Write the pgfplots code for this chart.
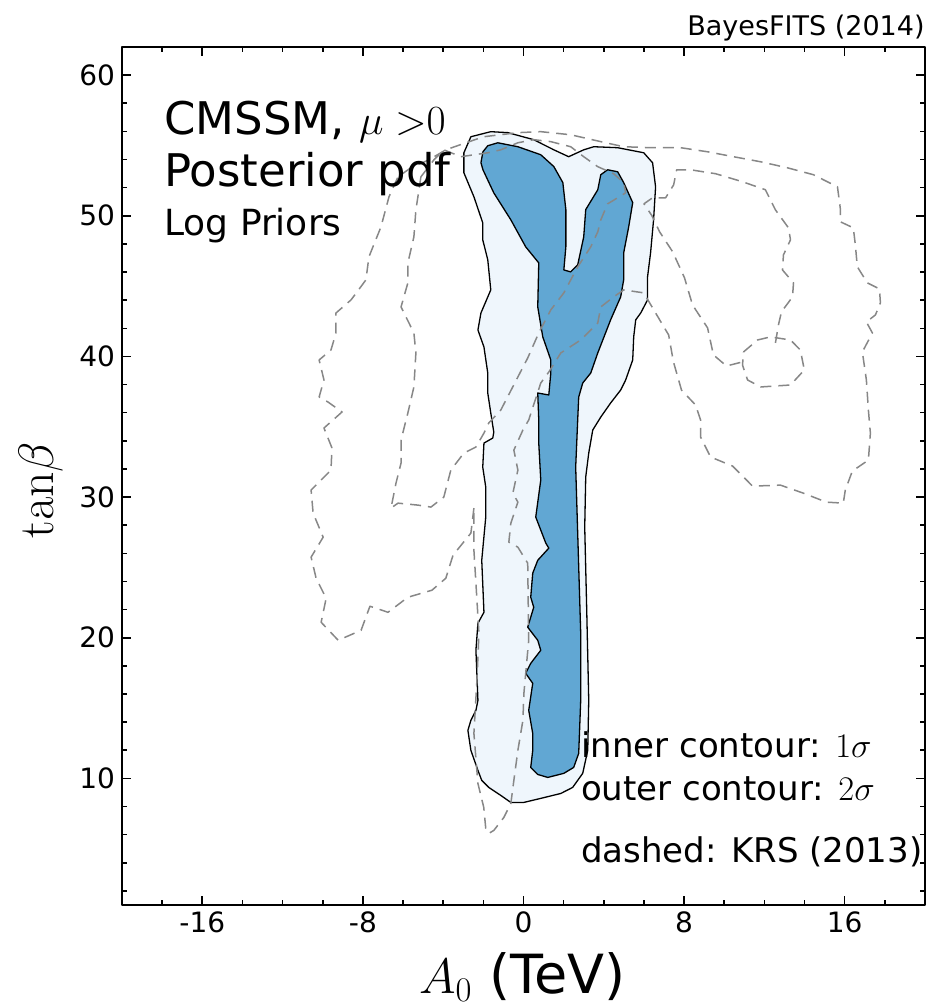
\documentclass[border=0pt]{standalone}
\usepackage[no-math]{fontspec}
\setmainfont{DejaVu Sans}
\usepackage{pgfplots}
\pgfplotsset{compat=1.18}
\definecolor{sigone}{RGB}{97,167,211}
\definecolor{sigtwo}{RGB}{239,246,252}
\definecolor{krs}{RGB}{135,135,135}

\begin{document}
\begin{tikzpicture}
\path[use as bounding box] (0,0) rectangle (465pt,503.5pt);
\begin{axis}[
  at={(61pt,51pt)}, anchor=south west,
  scale only axis, width=401.5pt, height=429pt,
  xmin=-20, xmax=20, ymin=1, ymax=62,
  xtick={-16,-8,0,8,16}, xticklabels={-16,-8,0,8,16},
  ytick={10,20,30,40,50,60}, yticklabels={10,20,30,40,50,60},
  minor xtick={-20,-18,...,20}, minor ytick={2,4,...,62},
  tick align=inside,
  major tick length=4.5pt, minor tick length=2.3pt,
  every tick/.style={black, line width=0.8pt},
  axis line style={line width=1.2pt},
  tick label style={font=\fontsize{14}{16}\selectfont},
  clip=false,
  axis on top,
  line join=round,
]

% 2 sigma region (outer contour)
\addplot[draw=black, line width=0.65pt, fill=sigtwo] coordinates {
(-2.97,53.63) (-2.97,54.48) (-2.62,55.62) (-1.63,55.98) (-0.78,55.91) (0.51,55.41)
(1.51,54.69) (2.25,54.20) (3.00,54.69) (3.50,54.91) (4.69,54.84) (5.99,54.48)
(6.43,53.77) (6.58,52.06) (6.48,49.71) (6.33,47.36) (6.18,45.66) (6.18,44.02)
(5.84,43.09) (5.59,42.60) (5.49,41.39) (5.44,39.75) (5.09,38.33) (4.84,37.61)
(4.34,36.69) (3.85,35.69) (3.45,34.77) (3.25,33.13) (3.10,31.42) (3.05,27.86)
(3.15,21.96) (3.25,15.55) (3.20,11.99) (2.95,10.36) (2.45,9.36) (1.86,8.93)
(0.86,8.58) (0.01,8.29) (-0.63,8.29) (-1.13,8.79) (-1.73,9.36) (-2.08,9.86)
(-2.27,10.57) (-2.62,11.99) (-2.77,13.42) (-2.62,14.13) (-2.37,14.84) (-2.27,15.55)
(-2.37,19.11) (-2.27,21.03) (-1.97,21.81) (-2.08,25.51) (-1.88,28.58) (-1.88,30.71)
(-2.03,32.13) (-1.97,33.84) (-1.53,34.20) (-1.48,34.62) (-1.63,35.98) (-1.78,37.40)
(-1.78,38.82) (-1.97,40.67) (-2.27,41.88) (-2.12,43.09) (-1.63,44.73) (-1.78,46.87)
(-2.03,48.29) (-2.03,49.50) (-2.47,51.35) (-2.97,53.06)
} -- cycle;

% 1 sigma region (inner contour)
\addplot[draw=black, line width=0.65pt, fill=sigone] coordinates {
(-2.12,53.77) (-2.02,54.55) (-1.78,54.98) (-1.28,55.19) (-0.28,54.91) (0.86,54.34)
(1.51,53.50) (1.96,52.36) (2.11,50.44) (2.11,47.79) (2.01,46.15) (2.35,46.01)
(2.70,46.51) (3.00,48.50) (3.10,50.44) (3.70,51.85) (3.85,52.92) (4.19,53.27)
(4.69,53.13) (4.99,52.36) (5.44,50.94) (5.24,49.21) (4.99,47.36) (4.99,45.44)
(4.84,44.23) (4.34,42.60) (3.70,40.25) (3.35,38.82) (2.95,38.11) (2.75,37.11)
(2.70,35.48) (2.60,32.13) (2.70,27.44) (2.85,20.32) (2.85,15.55) (2.75,11.78)
(2.50,10.78) (2.01,10.36) (1.21,10.07) (0.71,10.28) (0.36,10.78) (0.46,11.99)
(0.46,13.20) (0.26,14.84) (0.46,16.76) (0.11,17.47) (0.36,18.18) (0.86,19.11)
(0.71,19.82) (0.21,20.75) (0.51,22.17) (0.36,22.88) (0.46,24.59) (0.71,25.51)
(1.26,26.37) (1.11,26.73) (0.61,28.58) (0.86,31.21) (0.76,33.84) (0.76,35.48)
(0.71,37.40) (1.26,37.26) (1.36,38.82) (1.36,39.75) (0.96,41.39) (0.71,43.52)
(0.76,46.65) (0.11,47.79) (-0.63,49.71) (-1.48,51.63) (-2.02,53.27)
} -- cycle;

% KRS (2013) contours, dashed
\addplot[krs, line width=0.75pt, dash pattern=on 5.5pt off 3.5pt] coordinates {
(-5.11,52.77) (-4.46,53.98) (-3.97,54.69) (-3.12,54.20) (-1.78,54.48) (-1.13,54.69)
(-0.28,55.19) (0.51,55.41) (1.36,55.27) (2.35,54.91) (3.00,54.20) (3.70,53.49)
(4.49,52.99) (4.99,52.36) (5.09,51.63) (4.69,51.28) (4.19,50.85) (3.85,49.71)
(3.70,48.86) (3.35,47.79) (2.70,46.37) (2.01,44.52) (1.36,43.31) (0.76,41.67)
(0.21,39.89) (-0.28,38.54) (-1.13,36.19) (-1.73,35.27) (-1.97,34.55) (-2.37,33.56)
(-2.97,33.13) (-3.62,31.92) (-3.97,30.00) (-4.61,29.29) (-5.26,29.43) (-6.25,29.57)
(-6.60,29.22) (-6.35,31.00) (-6.10,32.42) (-6.10,34.06) (-5.76,35.98) (-5.46,37.83)
(-5.36,40.25) (-5.46,41.67) (-6.10,43.52) (-5.76,45.23) (-5.76,46.65) (-5.46,48.50)
(-5.36,50.42) (-5.26,51.35)
} -- cycle;

\addplot[krs, line width=0.75pt, dash pattern=on 5.5pt off 3.5pt] coordinates {
(-2.47,29.22) (-2.62,27.44) (-3.51,25.87) (-3.87,24.23) (-4.56,23.38) (-5.76,22.88)
(-6.75,21.81) (-7.65,22.24) (-8.09,20.53) (-9.23,19.82) (-10.08,21.10) (-9.83,22.81)
(-10.33,24.23) (-10.58,25.73) (-9.98,27.15) (-10.48,28.86) (-10.58,30.50) (-10.23,31.00)
(-9.59,31.92) (-9.54,33.49) (-9.94,34.91) (-9.04,36.05) (-9.74,36.76) (-10.18,37.12)
(-9.94,38.33) (-10.18,39.75) (-9.59,40.46) (-9.34,41.67) (-9.34,43.09) (-8.59,44.02)
(-7.85,45.44) (-7.70,47.08) (-7.10,49.21) (-6.70,51.35) (-6.25,52.77) (-5.61,53.41)
(-4.71,53.98) (-3.87,54.69) (-2.87,55.19) (-1.98,55.62) (-0.28,55.91) (0.86,55.98)
(2.35,55.76) (3.85,55.27) (4.99,54.91) (6.33,54.84) (7.83,54.84) (9.17,54.55)
(10.46,54.20) (11.81,53.84) (13.15,53.41) (14.44,52.92) (15.64,52.06) (15.79,50.42)
(15.79,49.57) (16.43,49.14) (16.53,47.93) (16.63,46.37) (17.13,45.23) (17.73,44.80)
(17.78,43.81) (17.53,42.95) (17.08,42.45) (17.38,41.67) (16.88,40.32) (17.08,38.33)
(17.18,36.19) (17.28,34.55) (17.18,32.63) (16.38,31.85) (16.03,30.50) (15.93,29.57)
(15.09,29.64) (13.94,30.28) (12.80,30.85) (11.41,30.78) (10.41,32.21) (9.32,32.85)
(8.82,34.27) (8.82,35.48) (8.57,36.55) (7.87,37.61) (7.47,39.61) (7.23,41.53)
(6.58,43.09) (5.99,44.52) (4.99,44.73) (4.49,44.23) (3.85,43.52) (3.70,42.38)
(2.85,41.17) (1.86,40.25) (1.26,38.89) (0.86,38.11) (0.26,35.48) (-0.03,34.77)
(-0.48,33.34) (-0.28,31.92) (-0.53,30.28) (-0.28,29.64) (-0.63,28.15) (-0.73,26.80)
(-0.28,26.44) (0.21,25.30) (0.26,19.82) (0.02,16.05) (-0.03,14.13) (-0.28,11.99)
(-0.48,9.86) (-0.63,8.22) (-0.98,7.22) (-1.48,6.30) (-1.73,6.09) (-1.88,6.44)
(-1.98,7.94) (-2.27,9.64) (-2.47,13.20) (-2.32,16.97) (-2.22,20.32) (-2.37,23.88)
(-2.47,26.23)
} -- cycle;

\addplot[krs, line width=0.75pt, dash pattern=on 5.5pt off 3.5pt] coordinates {
(12.55,40.96) (12.70,42.24) (12.85,43.17) (13.40,44.23) (13.45,45.23) (12.90,46.15)
(12.95,47.22) (13.30,48.29) (13.20,49.14) (12.55,50.42) (12.05,51.85) (10.91,52.42)
(9.57,52.99) (8.32,53.27) (7.63,53.27) (7.48,52.20) (7.08,51.28) (6.43,51.28)
(6.00,50.85) (6.40,50.00) (6.78,48.86) (7.43,47.44) (8.02,45.59) (8.42,43.66)
(9.17,42.03) (9.46,40.11) (10.11,39.32) (10.91,39.61)
};

\addplot[krs, line width=0.75pt, dash pattern=on 5.5pt off 3.5pt] coordinates {
(10.96,40.32) (11.66,41.17) (12.30,41.39) (13.30,41.17) (13.79,40.46) (13.99,39.04)
(13.30,37.97) (11.81,37.83) (11.16,38.33) (10.91,39.39)
} -- cycle;

% annotations
\node[anchor=base west, inner sep=0pt, font=\fontsize{22.5}{27}\selectfont] at (axis cs:-17.91,55.76) {CMSSM, $\mu\;{>}0$};
\node[anchor=base west, inner sep=0pt, font=\fontsize{22.5}{27}\selectfont] at (axis cs:-17.91,52.06) {Posterior pdf};
\node[anchor=base west, inner sep=0pt, font=\fontsize{18}{22}\selectfont] at (axis cs:-17.91,48.57) {Log Priors};
\node[anchor=base west, inner sep=0pt, font=\fontsize{17}{20}\selectfont] at (axis cs:2.85,11.49) {inner contour: $1\sigma$};
\node[anchor=base west, inner sep=0pt, font=\fontsize{17}{20}\selectfont] at (axis cs:2.85,8.43) {outer contour: $2\sigma$};
\node[anchor=base west, inner sep=0pt, font=\fontsize{17}{20}\selectfont] at (axis cs:2.85,4.02) {dashed: KRS (2013)};
\node[anchor=base east, inner sep=0pt, font=\fontsize{13.5}{16}\selectfont] at (axis cs:20,62.81) {BayesFITS (2014)};

% axis labels
\node[anchor=base, inner sep=0pt, font=\fontsize{27}{32}\selectfont] at (axis cs:-0.05,-5.3) {$A_0$ (TeV)};
\node[anchor=base, inner sep=0pt, rotate=90, font=\fontsize{25}{30}\selectfont] at (axis cs:-23.42,30.5) {$\mathrm{tan}\beta$};
\end{axis}
\end{tikzpicture}
\end{document}
